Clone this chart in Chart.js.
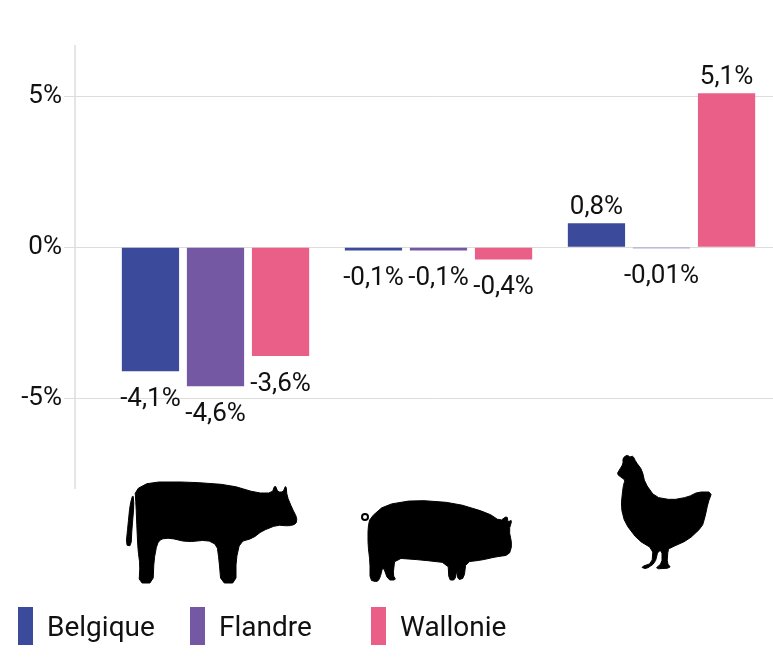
<!DOCTYPE html>
<html lang="fr">
<head>
<meta charset="UTF-8">
<title>Évolution du cheptel</title>
<style>
  body { margin: 0; background: #fff; font-family: Roboto, Arial, sans-serif; }
  #wrap { position: relative; width: 773px; height: 669px; }
  #legend { position: absolute; left: 0; top: 607px; width: 773px; height: 38px; }
  .item { position: absolute; top: 0; display: flex; align-items: center; height: 38px; font-size: 28px; color: #111; }
  .box { width: 15px; height: 38px; margin-right: 14px; }
</style>
</head>
<body>
<div id="wrap">
  <canvas id="chart" width="773" height="669"></canvas>
  <div id="legend"></div>
</div>
<script src="https://cdn.jsdelivr.net/npm/chart.js"></script>
<script>
const categories = ['Bovins', 'Porcs', 'Volailles'];
const seriesNames = ['Belgique', 'Flandre', 'Wallonie'];
const belgique = [-4.1, -0.1, 0.8];
const flandre = [-4.6, -0.1, -0.01];
const wallonie = [-3.6, -0.4, 5.1];
const yTicks = [-5, 0, 5];

const colors = ['#3c4a9b', '#7558a3', '#ea5f87'];
const legendLeft = [18, 190, 371];

const fmt = v => String(v).replace('.', ',') + '%';

// silhouettes, outlined in picture coords around a reference centre x, then shifted onto each category
const animals = [
  { ref: 215.5, shapes: [
    [[135,490],[150,482],[190,482],[230,485],[257,493],[272,493],[275,485],[278,492],[283,492],[286,485],[287,496],[292,508],[297,518],[296,524],[289,526],[277,525],[262,531],[253,538],[240,542],[236,560],[236,583],[221,583],[219,560],[217,545],[207,540],[187,542],[170,538],[161,539],[157,544],[154,560],[153,583],[139,583],[140,565],[138,550],[137,530],[136,505]],
    [[133,494],[130,505],[128,525],[126,545],[131,546],[132,528],[134,505]]
  ] },
  { ref: 438.5, shapes: [
    [[370,518],[385,505],[415,500],[455,503],[488,513],[500,521],[507,516],[508,522],[512,520],[509,530],[512,545],[509,555],[495,557],[482,560],[466,562],[464,578],[458,580],[457,570],[455,580],[449,580],[448,563],[422,560],[395,558],[393,575],[396,580],[388,580],[383,566],[380,578],[377,582],[370,580],[370,562],[368,545],[368,528]]
  ], tail: [365, 517] },
  { ref: 661.5, shapes: [
    [[623,458],[627,455],[630,457],[633,456],[636,462],[642,470],[645,483],[655,497],[672,500],[688,497],[698,492],[712,492],[708,503],[705,517],[702,527],[688,540],[670,548],[668,550],[667,563],[671,568],[655,569],[662,563],[662,551],[658,551],[655,563],[646,569],[641,567],[652,563],[653,549],[638,540],[625,523],[621,507],[623,487],[625,480],[622,478],[617,474],[620,469],[623,464]]
  ] }
];

// light corner cutting so legs and horns keep their shape
function softShape(ctx, p) {
  const n = p.length, t = 0.22;
  for (let k = 0; k < n; k++) {
    const a = p[k], b = p[(k + 1) % n];
    const q = [a[0] + (b[0] - a[0]) * t, a[1] + (b[1] - a[1]) * t];
    const r = [a[0] + (b[0] - a[0]) * (1 - t), a[1] + (b[1] - a[1]) * (1 - t)];
    if (k === 0) ctx.moveTo(q[0], q[1]); else ctx.lineTo(q[0], q[1]);
    ctx.lineTo(r[0], r[1]);
  }
  ctx.closePath();
}

const extras = {
  id: 'extras',
  beforeDatasetsDraw(chart) {
    const { ctx, chartArea } = chart;
    ctx.save();
    ctx.strokeStyle = '#dddddd';
    ctx.lineWidth = 1.5;
    ctx.beginPath();
    ctx.moveTo(chartArea.left - 29, chartArea.top);
    ctx.lineTo(chartArea.left - 29, chartArea.bottom);
    ctx.stroke();
    ctx.restore();
  },
  afterDatasetsDraw(chart) {
    const { ctx, chartArea } = chart;
    ctx.save();
    // value labels
    ctx.font = '26px Roboto';
    ctx.fillStyle = '#111';
    ctx.textAlign = 'center';
    ctx.textBaseline = 'alphabetic';
    chart.data.datasets.forEach((ds, i) => {
      chart.getDatasetMeta(i).data.forEach((bar, j) => {
        const v = ds.data[j];
        const y = v >= 0 ? bar.y - 9 : bar.y + 35;
        ctx.fillText(fmt(v), bar.x, y);
      });
    });
    // animals under each group
    const xs = chart.scales.x;
    const dy = chartArea.bottom - 489;
    ctx.fillStyle = '#000';
    ctx.strokeStyle = '#000';
    ctx.lineJoin = 'round';
    animals.forEach((a, i) => {
      const dx = xs.getPixelForValue(i) - a.ref;
      ctx.beginPath();
      a.shapes.forEach(s => softShape(ctx, s.map(([x, y]) => [x + dx, y + dy])));
      ctx.fill();
      ctx.lineWidth = 1;
      ctx.stroke();
      if (a.tail) {
        ctx.lineWidth = 2;
        ctx.beginPath();
        ctx.arc(a.tail[0] + dx, a.tail[1] + dy, 3, 0, Math.PI * 2);
        ctx.stroke();
      }
    });
    ctx.restore();
  }
};

new Chart(document.getElementById('chart'), {
  type: 'bar',
  data: {
    labels: categories,
    datasets: [belgique, flandre, wallonie].map((d, i) => ({
      label: seriesNames[i],
      data: d,
      backgroundColor: colors[i],
      borderWidth: 0,
      minBarLength: 1,
      categoryPercentage: 0.875,
      barPercentage: 0.88
    }))
  },
  options: {
    responsive: false,
    animation: false,
    layout: { padding: { top: 45, bottom: 180, left: 0, right: 0 } },
    plugins: { legend: { display: false }, tooltip: { enabled: false } },
    scales: {
      x: { display: false },
      y: {
        min: -8,
        max: 6.7,
        afterFit: s => { s.width = 104; },
        afterBuildTicks: s => { s.ticks = yTicks.map(v => ({ value: v })); },
        border: { display: false },
        grid: { color: '#dddddd', lineWidth: 1, tickLength: 40 },
        ticks: {
          padding: 2,
          color: '#111',
          font: { family: 'Roboto', size: 26 },
          callback: v => v + '%'
        }
      }
    }
  },
  plugins: [extras]
});

// legend
const legend = document.getElementById('legend');
seriesNames.forEach((name, i) => {
  const it = document.createElement('div');
  it.className = 'item';
  it.style.left = legendLeft[i] + 'px';
  it.innerHTML = '<span class="box" style="background:' + colors[i] + '"></span><span>' + name + '</span>';
  legend.appendChild(it);
});
</script>
</body>
</html>
